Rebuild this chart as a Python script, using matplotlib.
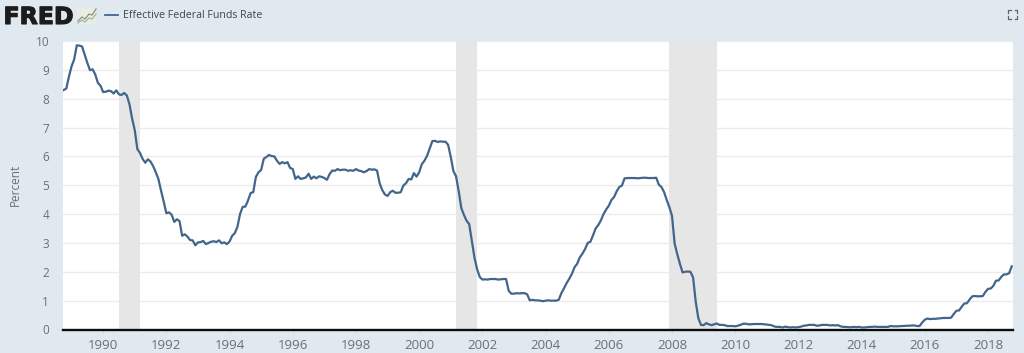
import matplotlib
matplotlib.use("Agg")
import matplotlib.pyplot as plt
import matplotlib.patheffects as pe
import numpy as np

plt.rcParams["font.family"] = ["Open Sans", "DejaVu Sans"]

# monthly values, Oct 1988 - Oct 2018
rate = [
    8.30, 8.35, 8.76,
    9.12, 9.36, 9.85, 9.84, 9.81, 9.53, 9.24, 8.99, 9.02, 8.84, 8.55, 8.45,
    8.23, 8.24, 8.28, 8.26, 8.18, 8.29, 8.15, 8.13, 8.20, 8.11, 7.81, 7.31,
    6.91, 6.25, 6.12, 5.91, 5.78, 5.90, 5.82, 5.66, 5.45, 5.21, 4.81, 4.43,
    4.03, 4.06, 3.98, 3.73, 3.82, 3.76, 3.25, 3.30, 3.22, 3.10, 3.09, 2.92,
    3.02, 3.03, 3.07, 2.96, 3.00, 3.04, 3.06, 3.03, 3.09, 2.99, 3.02, 2.96,
    3.05, 3.25, 3.34, 3.56, 4.01, 4.25, 4.26, 4.47, 4.73, 4.76, 5.29, 5.45,
    5.53, 5.92, 5.98, 6.05, 6.01, 6.00, 5.85, 5.74, 5.80, 5.76, 5.80, 5.60,
    5.56, 5.22, 5.31, 5.22, 5.24, 5.27, 5.40, 5.22, 5.30, 5.24, 5.31, 5.29,
    5.25, 5.19, 5.39, 5.51, 5.50, 5.56, 5.52, 5.54, 5.54, 5.50, 5.52, 5.50,
    5.56, 5.51, 5.49, 5.45, 5.49, 5.56, 5.54, 5.55, 5.51, 5.07, 4.83, 4.68,
    4.63, 4.76, 4.81, 4.74, 4.74, 4.76, 4.99, 5.07, 5.22, 5.20, 5.42, 5.30,
    5.45, 5.73, 5.85, 6.02, 6.27, 6.53, 6.54, 6.50, 6.52, 6.51, 6.51, 6.40,
    5.98, 5.49, 5.31, 4.80, 4.21, 3.97, 3.77, 3.65, 3.07, 2.49, 2.09, 1.82,
    1.73, 1.74, 1.73, 1.75, 1.75, 1.75, 1.73, 1.74, 1.75, 1.75, 1.34, 1.24,
    1.24, 1.26, 1.25, 1.26, 1.26, 1.22, 1.01, 1.03, 1.01, 1.01, 1.00, 0.98,
    1.00, 1.01, 1.00, 1.00, 1.00, 1.03, 1.26, 1.43, 1.61, 1.76, 1.93, 2.16,
    2.28, 2.50, 2.63, 2.79, 3.00, 3.04, 3.26, 3.50, 3.62, 3.78, 4.00, 4.16,
    4.29, 4.49, 4.59, 4.79, 4.94, 4.99, 5.24, 5.25, 5.25, 5.25, 5.25, 5.24,
    5.25, 5.26, 5.26, 5.25, 5.25, 5.25, 5.26, 5.02, 4.94, 4.76, 4.49, 4.24,
    3.94, 2.98, 2.61, 2.28, 1.98, 2.00, 2.01, 2.00, 1.81, 0.97, 0.39, 0.16,
    0.15, 0.22, 0.18, 0.15, 0.18, 0.21, 0.16, 0.16, 0.15, 0.12, 0.12, 0.12,
    0.11, 0.13, 0.16, 0.20, 0.20, 0.18, 0.18, 0.19, 0.19, 0.19, 0.19, 0.18,
    0.17, 0.16, 0.14, 0.10, 0.09, 0.09, 0.07, 0.10, 0.08, 0.07, 0.08, 0.07,
    0.08, 0.10, 0.13, 0.14, 0.16, 0.16, 0.16, 0.13, 0.14, 0.16, 0.16, 0.16,
    0.14, 0.15, 0.14, 0.15, 0.11, 0.09, 0.09, 0.08, 0.08, 0.09, 0.08, 0.09,
    0.07, 0.07, 0.08, 0.09, 0.09, 0.10, 0.09, 0.09, 0.09, 0.09, 0.09, 0.12,
    0.11, 0.11, 0.11, 0.12, 0.12, 0.13, 0.13, 0.14, 0.14, 0.12, 0.12, 0.24,
    0.34, 0.38, 0.36, 0.37, 0.37, 0.38, 0.39, 0.40, 0.40, 0.40, 0.41, 0.54,
    0.65, 0.66, 0.79, 0.90, 0.91, 1.04, 1.15, 1.16, 1.15, 1.15, 1.16, 1.30,
    1.41, 1.42, 1.51, 1.69, 1.70, 1.82, 1.91, 1.91, 1.95, 2.19,
]
start_year = 1988.75
recessions = [(1990.5, 1991.17), (2001.17, 2001.83), (2007.92, 2009.42)]
x_ticks = list(range(1990, 2020, 2))
y_ticks = list(range(0, 11))
series_name = "Effective Federal Funds Rate"

W, H = 1024, 353
BG = "#e1e9f0"
LINE = "#42658c"
TXT = "#6b6f73"

fig = plt.figure(figsize=(W / 100, H / 100), dpi=100, facecolor=BG)
ax = fig.add_axes([63 / W, 1 - 329.5 / H, 950 / W, 288.5 / H])

years = start_year + np.arange(len(rate)) / 12
for a, b in recessions:
    ax.axvspan(a, b, color="#e6e6e6", lw=0, zorder=1)
ax.plot(years, rate, color=LINE, lw=1.6, zorder=3, solid_joinstyle="round")

ax.set_xlim(1988.73, 2018.79)
ax.set_ylim(0, 10)
ax.set_xticks(x_ticks)
ax.set_yticks(y_ticks)
ax.grid(axis="y", color="#ececec", lw=1, zorder=0)
ax.set_axisbelow(True)
ax.tick_params(axis="x", length=3, width=0.8, color="#d5dbe0", labelsize=9.5, labelcolor=TXT, pad=4)
ax.tick_params(axis="y", length=0, labelsize=8.5, labelcolor=TXT, pad=10)
for s in ["top", "left", "right"]:
    ax.spines[s].set_visible(False)
ax.spines["bottom"].set_color("#0c0c0c")
ax.spines["bottom"].set_linewidth(1.7)
ax.set_ylabel("Percent", fontsize=8.5, color=TXT)
ax.yaxis.set_label_coords(-41 / 950, 0.5)

# header stuff, in pixels
top = fig.add_axes([0, 0, 1, 1], facecolor="none")
top.set_xlim(0, W)
top.set_ylim(H, 0)
top.axis("off")

top.text(3.5, 24, "FRED", fontsize=17, fontweight="bold", family="DejaVu Sans", color="#1c1c1c",
         path_effects=[pe.withStroke(linewidth=0.8, foreground="#1c1c1c")])
top.add_patch(plt.Rectangle((77, 8), 19, 16, color="#e9ece4", lw=0))
top.plot([78, 82, 85, 89, 92, 96], [21, 17, 19, 14, 15, 9], color="#7f9a78", lw=0.9)
top.plot([78, 82, 85, 89, 92, 96], [23, 20, 22, 18, 19, 14], color="#a7b59c", lw=0.9)

top.plot([105, 118], [15, 15], color=LINE, lw=1.3)
top.text(123, 15.5, series_name, fontsize=7.7, color="#3c4650", va="center")

# fullscreen icon corners
ic = "#5f6468"
for cx, cy, dx, dy in [(1008, 10, 1, 1), (1017, 10, -1, 1), (1008, 18.5, 1, -1), (1017, 18.5, -1, -1)]:
    top.plot([cx + 2.5 * dx, cx, cx], [cy, cy, cy + 2.5 * dy], color=ic, lw=0.9)

fig.savefig("out.png", dpi=100, facecolor=BG)
